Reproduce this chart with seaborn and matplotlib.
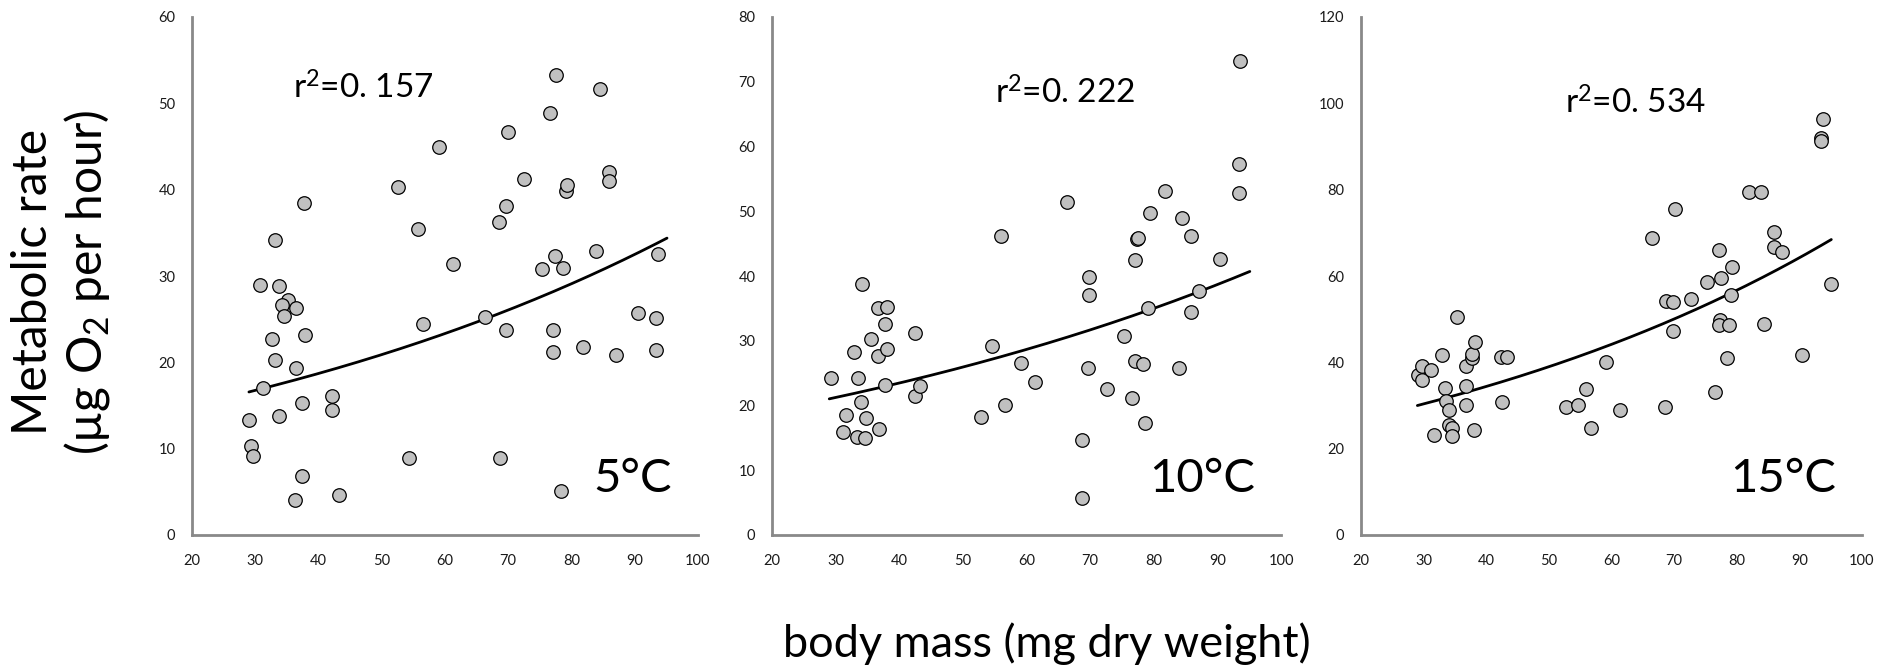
import numpy as np
import pandas as pd
import matplotlib
matplotlib.use("Agg")
import matplotlib.pyplot as plt
import seaborn as sns

# ---------------- data ----------------
mass_5 = [29.0, 29.3, 29.6, 30.7, 31.3, 32.6, 33.1, 33.2, 33.7, 33.8, 35.2, 34.3, 34.5,
          36.5, 36.4, 36.3, 37.7, 37.9, 37.4, 37.4, 42.2, 42.2, 43.2, 52.6, 54.3, 55.7,
          56.5, 59.0, 61.2, 66.4, 68.6, 68.7, 69.9, 69.7, 69.6, 72.5, 75.3, 76.6, 77.6,
          77.4, 78.7, 77.1, 77.1, 78.3, 79.1, 79.3, 81.8, 83.9, 84.5, 86.0, 86.0, 87.1,
          90.5, 93.4, 93.4, 93.7]
rate_5 = [13.3, 10.3, 9.2, 29.0, 17.0, 22.7, 20.3, 34.2, 28.8, 13.8, 27.2, 26.6, 25.4,
          26.3, 19.4, 4.1, 38.5, 23.2, 15.3, 6.8, 16.1, 14.5, 4.6, 40.3, 8.9, 35.4,
          24.4, 44.9, 31.4, 25.3, 36.2, 8.9, 46.7, 38.1, 23.8, 41.2, 30.8, 48.9, 53.3,
          32.3, 30.9, 23.7, 21.2, 5.1, 39.9, 40.5, 21.8, 32.9, 51.7, 42.1, 41.0, 20.9,
          25.7, 25.1, 21.4, 32.6]

mass_10 = [29.2, 31.1, 31.6, 32.9, 33.5, 33.4, 34.0, 34.1, 34.6, 34.8, 35.6, 36.7, 36.7,
           36.8, 38.1, 37.7, 38.0, 37.7, 42.5, 42.5, 43.3, 52.8, 54.5, 56.0, 56.6, 59.1,
           61.3, 66.4, 68.7, 68.7, 69.9, 69.8, 69.7, 72.6, 75.4, 76.6, 77.3, 77.6, 77.1,
           77.1, 78.3, 78.7, 79.1, 79.4, 81.8, 83.9, 84.5, 85.9, 85.9, 87.1, 90.4, 93.6,
           93.4, 93.4]
rate_10 = [24.3, 15.9, 18.6, 28.2, 24.3, 15.2, 20.5, 38.8, 15.0, 18.0, 30.2, 35.0, 27.6,
           16.3, 35.2, 32.6, 28.8, 23.1, 31.2, 21.4, 23.0, 18.2, 29.2, 46.2, 20.1, 26.5,
           23.6, 51.5, 14.6, 5.7, 39.9, 37.0, 25.8, 22.6, 30.8, 21.1, 45.7, 45.9, 42.5,
           26.8, 26.4, 17.3, 35.1, 49.7, 53.1, 25.8, 48.9, 46.2, 34.5, 37.7, 42.7, 73.2,
           57.3, 52.8]

mass_15 = [29.1, 29.7, 29.8, 31.1, 31.7, 32.9, 33.4, 33.5, 34.0, 34.0, 34.6, 34.6, 35.4,
           36.7, 36.7, 36.8, 37.7, 37.8, 38.2, 38.0, 42.4, 43.3, 42.5, 52.7, 54.6, 55.9,
           56.7, 59.2, 61.4, 66.5, 68.6, 68.7, 69.9, 69.9, 70.1, 72.7, 75.3, 76.6, 77.1,
           77.5, 77.4, 77.1, 78.7, 78.4, 79.1, 79.3, 81.9, 83.8, 84.4, 85.9, 85.9, 87.2,
           90.4, 93.5, 93.5, 93.7, 95.1]
rate_15 = [37.1, 35.8, 39.1, 38.3, 23.2, 41.6, 34.1, 31.0, 29.0, 25.4, 24.9, 23.0, 50.5,
           39.1, 34.6, 30.2, 41.0, 42.0, 44.8, 24.4, 41.2, 41.2, 30.9, 29.6, 30.2, 33.8,
           24.7, 40.0, 29.0, 68.9, 29.6, 54.2, 54.0, 47.3, 75.6, 54.6, 58.6, 33.2, 66.0,
           59.6, 49.9, 48.7, 48.7, 41.0, 55.5, 62.2, 79.5, 79.5, 48.9, 70.1, 66.7, 65.6,
           41.6, 91.9, 91.2, 96.3, 58.2]

temperatures = ["5°C", "10°C", "15°C"]
r2_labels = ["0. 157", "0. 222", "0. 534"]
y_max = [60, 80, 120]
y_step = [10, 10, 20]
x_ticks = [20, 30, 40, 50, 60, 70, 80, 90, 100]

masses = [mass_5, mass_10, mass_15]
rates = [rate_5, rate_10, rate_15]

# ---------------- style ----------------
sns.set_theme(style="white")
FONT = ["Lato", "DejaVu Sans"]
plt.rcParams["font.family"] = FONT
plt.rcParams["mathtext.fontset"] = "custom"
plt.rcParams["mathtext.rm"] = "Lato"
plt.rcParams["mathtext.it"] = "Lato:italic"

SPINE = "#898989"
TXT = "#1a1a1a"

fig = plt.figure(figsize=(18.98, 6.67), dpi=100)
fig.patch.set_facecolor("white")

lefts = [192, 772, 1361]
widths = [506, 509, 501]
W, H = 1898, 667
ax_bottom = (H - 535) / H
ax_height = 518 / H

r2_pos = [(0.200, 0.842), (0.438, 0.832), (0.407, 0.813)]

all_mass = np.concatenate([np.asarray(m) for m in masses])
x_fit = np.linspace(all_mass.min(), all_mass.max(), 200)

for i in range(3):
    ax = fig.add_axes([lefts[i] / W, ax_bottom, widths[i] / W, ax_height])
    df = pd.DataFrame({"mass": masses[i], "rate": rates[i]})
    sns.scatterplot(data=df, x="mass", y="rate", ax=ax, s=95, color="#c0c0c0",
                    edgecolor="black", linewidth=0.9, zorder=3, legend=False)
    # exponential trendline (log-linear least squares, as Excel does)
    b, loga = np.polyfit(df["mass"], np.log(df["rate"]), 1)
    fit = pd.DataFrame({"mass": x_fit, "rate": np.exp(loga) * np.exp(b * x_fit)})
    sns.lineplot(data=fit, x="mass", y="rate", ax=ax, color="black", lw=2.0, zorder=2)

    ax.set_xlim(20, 100)
    ax.set_ylim(0, y_max[i])
    ax.set_xticks(x_ticks)
    ax.set_yticks(np.arange(0, y_max[i] + 1, y_step[i]))
    ax.set_xlabel("")
    ax.set_ylabel("")
    for s in ["top", "right"]:
        ax.spines[s].set_visible(False)
    for s in ["left", "bottom"]:
        ax.spines[s].set_color(SPINE)
        ax.spines[s].set_linewidth(2.0)
    ax.tick_params(axis="both", direction="in", length=5, width=2.0, color=SPINE,
                   labelsize=10.5, labelcolor=TXT)
    ax.tick_params(axis="x", pad=14)
    ax.tick_params(axis="y", pad=12)
    ax.set_facecolor("white")

    ax.text(r2_pos[i][0], r2_pos[i][1], "r$^{\\mathregular{2}}$=" + r2_labels[i],
            transform=ax.transAxes, fontsize=24, color="black", ha="left", va="baseline")
    ax.text(0.948, 0.083, temperatures[i], transform=ax.transAxes,
            fontsize=34, color="black", ha="right", va="baseline")

fig.text(61.5 / W, (H - 282) / H, "Metabolic rate\n(µg O$_\\mathregular{2}$ per hour)",
         rotation=90, ha="center", va="center", multialignment="center",
         fontsize=34.5, color="black", linespacing=1.2)
fig.text(1047 / W, (H - 657) / H, "body mass (mg dry weight)", ha="center",
         va="baseline", fontsize=32.5, color="black")

fig.savefig("out.png", dpi=100, facecolor="white")
